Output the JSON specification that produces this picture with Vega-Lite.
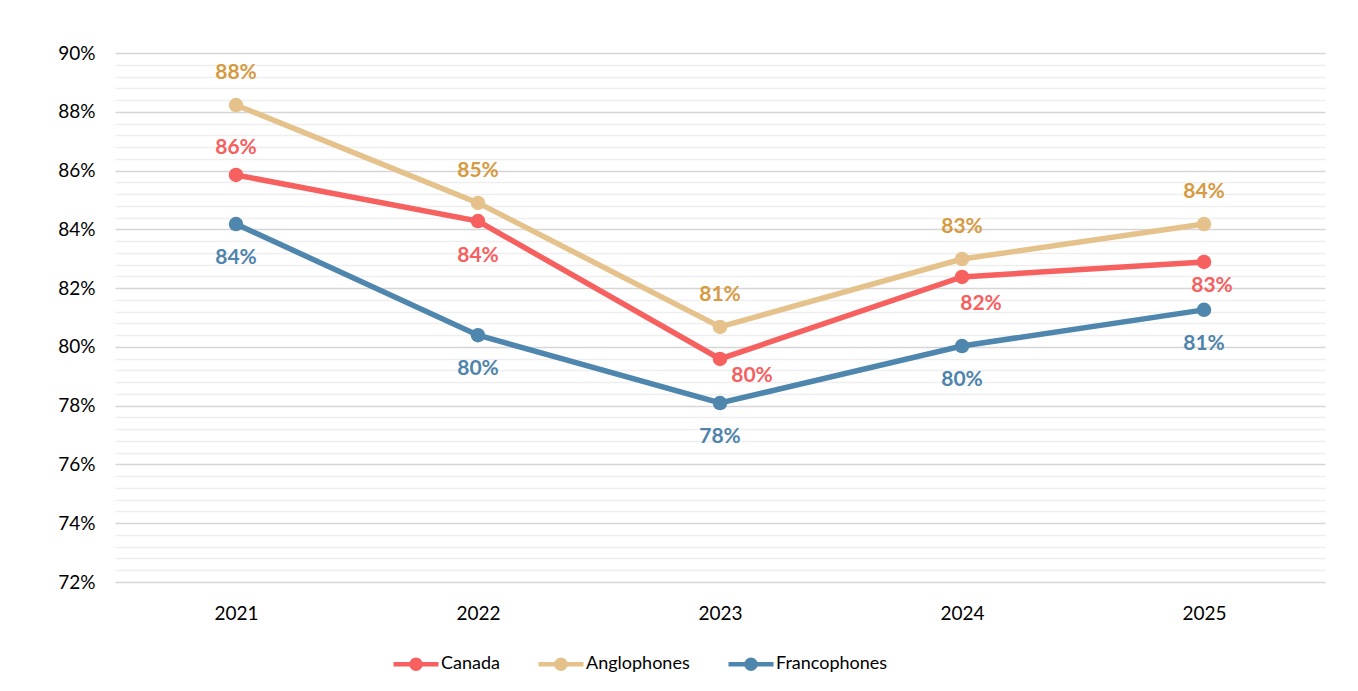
{
  "$schema": "https://vega.github.io/schema/vega-lite/v6.json",
  "autosize": "none",
  "padding": {"left": 115, "top": 53, "right": 33, "bottom": 109},
  "width": 1210,
  "height": 529,
  "background": "white",
  "config": {
    "view": {"stroke": null},
    "font": "Lato",
    "axis": {"labelFont": "Lato", "labelColor": "#000000", "labelFontSize": 19, "domain": false, "ticks": false}
  },
  "data": {
    "values": [
      {"year": "2021", "series": "Canada", "v": 0.8585},
      {"year": "2022", "series": "Canada", "v": 0.8428},
      {"year": "2023", "series": "Canada", "v": 0.7959},
      {"year": "2024", "series": "Canada", "v": 0.8238},
      {"year": "2025", "series": "Canada", "v": 0.8289},
      {"year": "2021", "series": "Anglophones", "v": 0.8823},
      {"year": "2022", "series": "Anglophones", "v": 0.8490},
      {"year": "2023", "series": "Anglophones", "v": 0.8068},
      {"year": "2024", "series": "Anglophones", "v": 0.8299},
      {"year": "2025", "series": "Anglophones", "v": 0.8418},
      {"year": "2021", "series": "Francophones", "v": 0.8418},
      {"year": "2022", "series": "Francophones", "v": 0.8040},
      {"year": "2023", "series": "Francophones", "v": 0.7809},
      {"year": "2024", "series": "Francophones", "v": 0.8003},
      {"year": "2025", "series": "Francophones", "v": 0.8126}
    ]
  },
  "encoding": {
    "x": {
      "field": "year", "type": "ordinal",
      "scale": {"type": "point", "padding": 0.5},
      "axis": {"title": null, "labelAngle": 0, "labelPadding": 22, "grid": false}
    },
    "y": {
      "field": "v", "type": "quantitative",
      "scale": {"domain": [0.72, 0.9], "nice": false, "zero": false},
      "axis": {
        "title": null,
        "format": ".0%",
        "labelPadding": 20,
        "labelOverlap": false,
        "values": [0.72,0.724,0.728,0.732,0.736,0.74,0.744,0.748,0.752,0.756,0.76,0.764,0.768,0.772,0.776,0.78,0.784,0.788,0.792,0.796,0.8,0.804,0.808,0.812,0.816,0.82,0.824,0.828,0.832,0.836,0.84,0.844,0.848,0.852,0.856,0.86,0.864,0.868,0.872,0.876,0.88,0.884,0.888,0.892,0.896,0.9],
        "labelExpr": "abs(datum.value*50 - round(datum.value*50)) < 0.001 ? datum.label : ''",
        "grid": true,
        "gridWidth": 1.5,
        "gridColor": {"condition": {"test": "abs(datum.value*50 - round(datum.value*50)) < 0.001", "value": "#d6d6d6"}, "value": "#eeeeee"}
      }
    }
  },
  "layer": [
    {
      "mark": {"type": "line", "strokeWidth": 5.5, "point": {"filled": true, "size": 210, "opacity": 1}},
      "encoding": {
        "color": {
          "field": "series", "type": "nominal",
          "scale": {"domain": ["Canada", "Anglophones", "Francophones"], "range": ["#F6605F", "#E5C28C", "#4F86AD"]},
          "legend": {
            "title": null, "orient": "none", "direction": "horizontal",
            "legendX": 276, "legendY": 586,
            "labelFont": "Lato", "labelFontSize": 18, "labelColor": "#000000",
            "symbolType": "M-1,0L1,0M0.2,0A0.2,0.2,0,1,1,-0.2,0A0.2,0.2,0,1,1,0.2,0M0.07,0A0.07,0.07,0,1,1,-0.07,0A0.07,0.07,0,1,1,0.07,0",
            "symbolSize": 2025,
            "symbolStrokeWidth": 4.5,
            "labelOffset": 0,
            "columnPadding": 29
          }
        }
      }
    },
    {
      "transform": [{"filter": "datum.series == 'Anglophones'"}],
      "mark": {"type": "text", "dy": -32, "fontSize": 21, "fontWeight": "bold", "color": "#D69A42", "baseline": "middle"},
      "encoding": {"text": {"field": "v", "type": "quantitative", "format": ".0%"}}
    },
    {
      "transform": [{"filter": "datum.series == 'Francophones'"}],
      "mark": {"type": "text", "dy": 34, "fontSize": 21, "fontWeight": "bold", "color": "#4F84AB", "baseline": "middle"},
      "encoding": {"text": {"field": "v", "type": "quantitative", "format": ".0%"}}
    },
    {
      "transform": [{"filter": "datum.series == 'Canada' && datum.year == '2021'"}],
      "mark": {"type": "text", "dy": -27, "fontSize": 21, "fontWeight": "bold", "color": "#F6605F", "baseline": "middle"},
      "encoding": {"text": {"field": "v", "type": "quantitative", "format": ".0%"}}
    },
    {
      "transform": [{"filter": "datum.series == 'Canada' && datum.year == '2022'"}],
      "mark": {"type": "text", "dy": 35, "fontSize": 21, "fontWeight": "bold", "color": "#F6605F", "baseline": "middle"},
      "encoding": {"text": {"field": "v", "type": "quantitative", "format": ".0%"}}
    },
    {
      "transform": [{"filter": "datum.series == 'Canada' && datum.year == '2023'"}],
      "mark": {"type": "text", "dx": 32, "dy": 17, "fontSize": 21, "fontWeight": "bold", "color": "#F6605F", "baseline": "middle"},
      "encoding": {"text": {"field": "v", "type": "quantitative", "format": ".0%"}}
    },
    {
      "transform": [{"filter": "datum.series == 'Canada' && datum.year == '2024'"}],
      "mark": {"type": "text", "dx": 19, "dy": 27, "fontSize": 21, "fontWeight": "bold", "color": "#F6605F", "baseline": "middle"},
      "encoding": {"text": {"field": "v", "type": "quantitative", "format": ".0%"}}
    },
    {
      "transform": [{"filter": "datum.series == 'Canada' && datum.year == '2025'"}],
      "mark": {"type": "text", "dx": 8, "dy": 24, "fontSize": 21, "fontWeight": "bold", "color": "#F6605F", "baseline": "middle"},
      "encoding": {"text": {"field": "v", "type": "quantitative", "format": ".0%"}}
    }
  ]
}
